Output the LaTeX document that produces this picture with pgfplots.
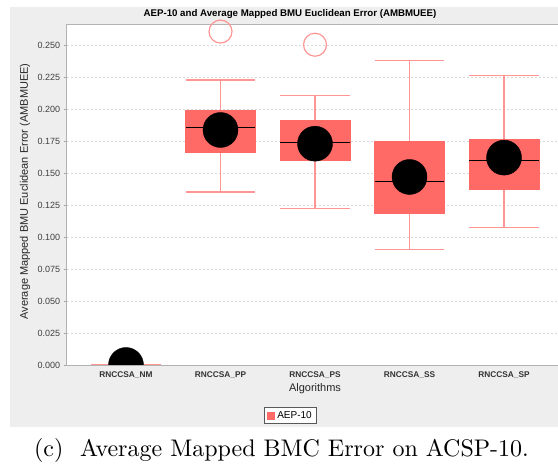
\documentclass[border=0pt]{standalone}
\usepackage{fontspec}
\newfontfamily\arial{Liberation Sans}
\newfontfamily\capfont{lmroman10-regular}[Extension=.otf]
\usepackage{pgfplots}
\pgfplotsset{compat=1.18}
\usepgfplotslibrary{statistics}

\definecolor{boxred}{RGB}{255,106,102}
\definecolor{whiskred}{RGB}{255,150,150}
\definecolor{panelgray}{RGB}{238,238,238}

\begin{document}
\begin{tikzpicture}
\useasboundingbox (0pt,0pt) rectangle (558pt,465pt);
\fill[white] (0pt,0pt) rectangle (558pt,465pt);
% chart panel
\fill[panelgray] (10pt,38pt) rectangle (562pt,458pt);

\begin{axis}[
    at={(66.7pt,100pt)}, anchor=south west,
    scale only axis,
    width=496.3pt, height=341pt,
    xmin=-0.6275, xmax=4.624,
    ymin=0, ymax=0.2664,
    axis background/.style={fill=white},
    axis line style={draw=gray!60, line width=0.7pt},
    xtick={0,1,2,3,4},
    xticklabels={RNCCSA\_NM,RNCCSA\_PP,RNCCSA\_PS,RNCCSA\_SS,RNCCSA\_SP},
    xticklabel style={font=\arial\bfseries\fontsize{8.3}{10}\selectfont, text=black!80},
    major x tick style={draw=none},
    ytick={0,0.025,0.05,0.075,0.1,0.125,0.15,0.175,0.2,0.225,0.25},
    ytick pos=left,
    tick align=outside,
    major tick length=3pt,
    major y tick style={draw=gray!70, line width=0.6pt},
    yticklabel style={font=\arial\fontsize{9}{10}\selectfont, text=black!75,
        /pgf/number format/.cd, fixed, fixed zerofill, precision=3,
        assume math mode=true},
    scaled y ticks=false,
    ymajorgrids,
    major grid style={draw=gray!30, dash pattern=on 2pt off 2pt, line width=0.5pt},
    clip mode=individual,
    clip marker paths=true,
    boxplot/draw direction=y,
    boxplot/box extend=0.74,
    boxplot/whisker extend=0.74,
    boxplot/every box/.style={fill=boxred, draw=boxred, line width=0.4pt},
    boxplot/every whisker/.style={draw=whiskred, line width=1.2pt},
    boxplot/every median/.style={draw=black, line width=0.9pt},
    legend style={at={(0.451,-0.148)}, anchor=center, draw=black!65, fill=white,
        font=\arial\fontsize{10}{12}\selectfont, inner xsep=3pt, inner ysep=1.5pt,
        line width=0.9pt},
]
\addlegendimage{legend image code/.code={\fill[boxred] (0pt,-3.5pt) rectangle (7pt,3.5pt);}}
\addlegendentry{AEP-10}

% RNCCSA_NM
\addplot[boxplot prepared={draw position=0, lower whisker=0, lower quartile=0,
    median=0, upper quartile=0, upper whisker=0}, forget plot] coordinates {};
% RNCCSA_PP
\addplot[boxplot prepared={draw position=1, lower whisker=0.1352, lower quartile=0.1661,
    median=0.1859, upper quartile=0.1992, upper whisker=0.2227}, forget plot] coordinates {};
% RNCCSA_PS
\addplot[boxplot prepared={draw position=2, lower whisker=0.1224, lower quartile=0.1596,
    median=0.1740, upper quartile=0.1914, upper whisker=0.2104}, forget plot] coordinates {};
% RNCCSA_SS
\addplot[boxplot prepared={draw position=3, lower whisker=0.0901, lower quartile=0.1188,
    median=0.1435, upper quartile=0.1750, upper whisker=0.2380}, forget plot] coordinates {};
% RNCCSA_SP
\addplot[boxplot prepared={draw position=4, lower whisker=0.1073, lower quartile=0.1370,
    median=0.1596, upper quartile=0.1766, upper whisker=0.2260}, forget plot] coordinates {};

% means
\addplot[only marks, mark=*, mark size=17.5pt, mark options={fill=black, draw=black},
    forget plot] coordinates {(0,0) (1,0.1836) (2,0.1729) (3,0.1469) (4,0.1620)};

% outliers
\addplot[only marks, mark=o, mark size=11.5pt, mark options={draw=whiskred, line width=1.2pt},
    clip=false, forget plot] coordinates {(1,0.2605) (2,0.2502)};
\end{axis}

\node[font=\arial\bfseries\fontsize{9.7}{11}\selectfont] at (290pt,450.5pt)
    {AEP-10 and Average Mapped BMU Euclidean Error (AMBMUEE)};
\node[rotate=90, font=\arial\fontsize{11}{13}\selectfont, text=black!85] at (25pt,273.5pt)
    {Average Mapped BMU Euclidean Error (AMBMUEE)};
\node[font=\arial\fontsize{11}{13}\selectfont, text=black!85] at (315pt,76pt) {Algorithms};
\node[anchor=base, font=\capfont\fontsize{24}{28}\selectfont] at (281.5pt,8.3pt)
    {(c)\hspace{0.7em}Average Mapped BMC Error on ACSP-10.};
\end{tikzpicture}
\end{document}
